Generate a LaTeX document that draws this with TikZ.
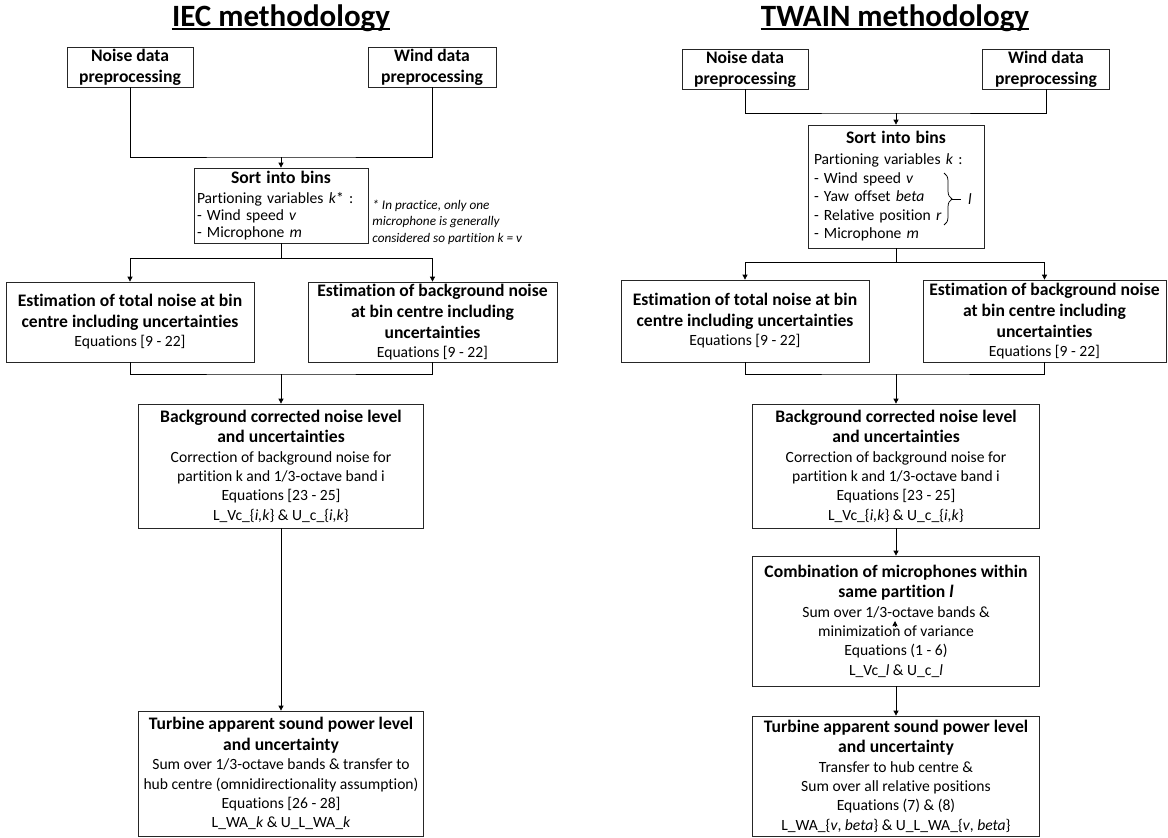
\documentclass[tikz,border=0pt]{standalone}
\usepackage{fontspec}
\setmainfont{Carlito}[Ligatures=NoCommon]
\usepackage{tikz}
\usetikzlibrary{arrows.meta,decorations.pathreplacing}

\newcommand{\hd}{\bfseries\fontsize{17.6}{19.3}\selectfont}

\begin{document}
\begin{tikzpicture}[x=1pt,y=-1pt,line width=0.75pt,
  box/.style={draw=black!85,inner sep=0pt,align=center,font=\fontsize{15.6}{19.3}\selectfont},
  binbox/.style={draw=black!85,inner ysep=0pt},
  arr/.style={-{Triangle[length=5pt,width=5pt]}},
  ttl/.style={font=\fontsize{31}{36}\selectfont\bfseries,inner sep=0pt,anchor=base}]
  \useasboundingbox (0,0) rectangle (1168,838);

  % titles
  \node[ttl] (iec) at (281,26) {IEC methodology};
  \node[ttl] (twain) at (895,26) {TWAIN methodology};
  \foreach \t in {iec,twain}{\draw[line width=2pt] ([yshift=-3.3pt]\t.base west) -- ([yshift=-3.3pt]\t.base east);}

  % IEC column
  \node[box,minimum width=126pt,minimum height=40pt] (noiseL) at (130,67) {{\hd Noise data}\\[1.7pt]{\hd preprocessing}};
  \node[box,minimum width=128pt,minimum height=40pt] (windL) at (432,67) {{\hd Wind data}\\[1.7pt]{\hd preprocessing}};
  \node[binbox,text width=168pt,inner xsep=3pt,minimum height=75pt,font=\fontsize{15.6}{16.7}\selectfont] (sortL) at (281,205.5)
    {\centerline{\hd Sort into bins}\vskip3.3pt
     \leftline{Partioning variables \textit{k}* :}
     \leftline{- Wind speed \textit{v}}
     \leftline{- Microphone \textit{m}}};
  \node[anchor=north west,align=left,inner sep=0pt,font=\fontsize{13.2}{16.5}\selectfont\itshape] (noteL) at (372,199.5)
    {* In practice, only one\\microphone is generally\\considered so partition \textit{k} = \textit{v}};
  \node[box,minimum width=248pt,minimum height=80pt] (totalL) at (130,322)
    {{\hd Estimation of total noise at bin}\\[1.5pt]{\hd centre including uncertainties}\\Equations [9 - 22]};
  \node[box,minimum width=249pt,minimum height=80pt] (bgL) at (432.5,322)
    {{\hd Estimation of background noise}\\[1.5pt]{\hd at bin centre including}\\[1.5pt]{\hd uncertainties}\\Equations [9 - 22]};
  \node[box,minimum width=285pt,minimum height=124pt] (corrL) at (281,466)
    {{\hd Background corrected noise level}\\[1.5pt]{\hd and uncertainties}\\
     Correction of background noise for\\partition k and 1/3-octave band i\\Equations [23 - 25]\\
     L\_Vc\_\{\textit{i,k}\} \& U\_c\_\{\textit{i,k}\}};
  \node[box,minimum width=285pt,minimum height=125pt] (turbL) at (281,773.5)
    {{\hd Turbine apparent sound power level}\\[1.5pt]{\hd and uncertainty}\\
     Sum over 1/3-octave bands \& transfer to\\hub centre (omnidirectionality assumption)\\Equations [26 - 28]\\
     L\_WA\_\textit{k} \& U\_L\_WA\_\textit{k}};

  \coordinate (mL1) at (281,157);
  \coordinate (mL2) at (281,258);
  \coordinate (mL3) at (281,374);
  \draw (noiseL.south) |- (mL1) -| (windL.south);
  \draw[arr] (mL1) -- (sortL.north);
  \draw (sortL.south) -- (mL2);
  \draw[arr] (mL2) -| (totalL.north);
  \draw[arr] (mL2) -| (bgL.north);
  \draw (totalL.south) |- (mL3) -| (bgL.south);
  \draw[arr] (mL3) -- (corrL.north);
  \draw[arr] (corrL.south) -- (turbL.north);

  % TWAIN column
  \node[box,minimum width=126pt,minimum height=40pt] (noiseR) at (745,69) {{\hd Noise data}\\[1.7pt]{\hd preprocessing}};
  \node[box,minimum width=126.5pt,minimum height=40pt] (windR) at (1046,69) {{\hd Wind data}\\[1.7pt]{\hd preprocessing}};
  \node[binbox,text width=164pt,inner xsep=6pt,minimum height=123pt,font=\fontsize{15.6}{18.5}\selectfont] (sortR) at (896,186.5)
    {\centerline{\hd Sort into bins}\vskip2.5pt
     \leftline{Partioning variables \textit{k} :}
     \leftline{- Wind speed \textit{v}}
     \leftline{- Yaw offset \textit{beta}}
     \leftline{- Relative position \textit{r}}
     \leftline{- Microphone \textit{m}}};
  \draw[decorate,decoration={brace,amplitude=8pt}] (944,173) -- (944,225);
  \draw (952,199.5) -- (961,199.5);
  \node[font=\fontsize{15.6}{18.5}\selectfont\itshape] (partR) at (970,199) {l};
  \node[box,minimum width=248pt,minimum height=82pt] (totalR) at (745,321)
    {{\hd Estimation of total noise at bin}\\[1.5pt]{\hd centre including uncertainties}\\Equations [9 - 22]};
  \node[box,minimum width=243pt,minimum height=82pt] (bgR) at (1044.5,321)
    {{\hd Estimation of background noise}\\[1.5pt]{\hd at bin centre including}\\[1.5pt]{\hd uncertainties}\\Equations [9 - 22]};
  \node[box,minimum width=287pt,minimum height=124pt] (corrR) at (896,466)
    {{\hd Background corrected noise level}\\[1.5pt]{\hd and uncertainties}\\
     Correction of background noise for\\partition k and 1/3-octave band i\\Equations [23 - 25]\\
     L\_Vc\_\{\textit{i,k}\} \& U\_c\_\{\textit{i,k}\}};
  \node[box,minimum width=287pt,minimum height=130pt] (combR) at (896,621)
    {{\hd Combination of microphones within}\\[1.5pt]{\hd same partition \textit{l}}\\
     Sum over 1/3-octave bands \&\\minimization of variance\\Equations (1 - 6)\\
     L\_Vc\_\textit{l} \& U\_c\_\textit{l}};
  \node[box,minimum width=287pt,minimum height=120pt] (turbR) at (896,776)
    {{\hd Turbine apparent sound power level}\\[1.5pt]{\hd and uncertainty}\\
     Transfer to hub centre \&\\Sum over all relative positions\\Equations (7) \& (8)\\
     L\_WA\_\{\textit{v}, \textit{beta}\} \& U\_L\_WA\_\{\textit{v}, \textit{beta}\}};

  \coordinate (mR1) at (896,113);
  \coordinate (mR2) at (896,262);
  \coordinate (mR3) at (896,374);
  \coordinate (stub) at (895,627);
  \draw (noiseR.south) |- (mR1) -| (windR.south);
  \draw[arr] (mR1) -- (sortR.north);
  \draw (sortR.south) -- (mR2);
  \draw[arr] (mR2) -| (totalR.north);
  \draw[arr] (mR2) -| (bgR.north);
  \draw (totalR.south) |- (mR3) -| (bgR.south);
  \draw[arr] (mR3) -- (corrR.north);
  \draw[arr] (corrR.south) -- (combR.north);
  \draw[arr] (combR.south) -- (turbR.north);
  \draw[arr] (stub) -- ++(0,-6);
\end{tikzpicture}
\end{document}
